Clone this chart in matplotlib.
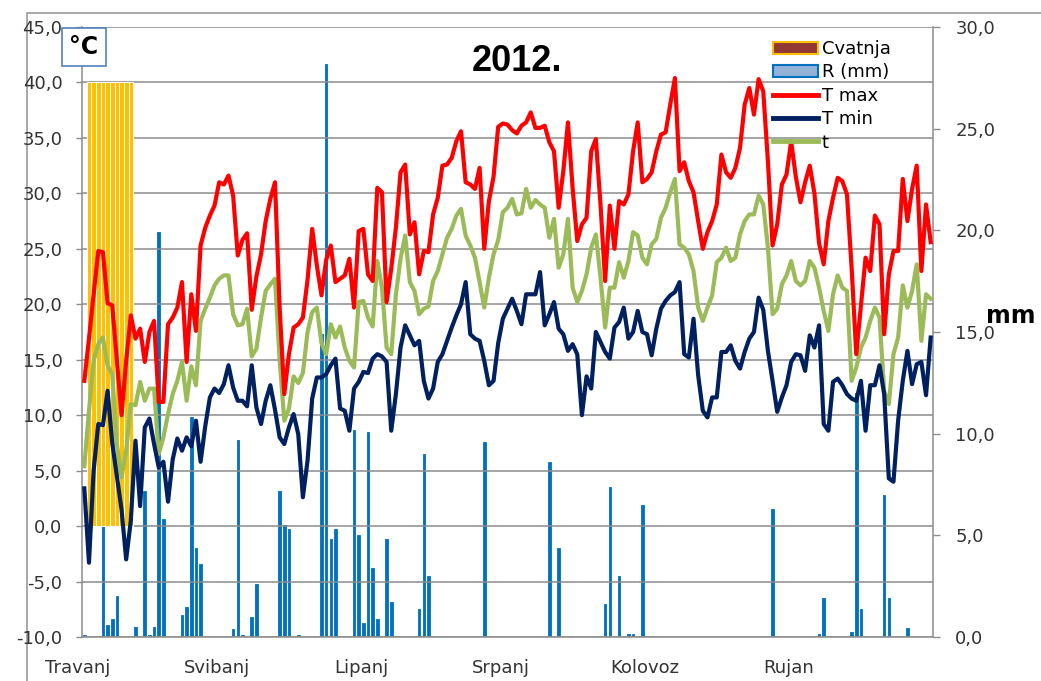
import numpy as np
import matplotlib
matplotlib.use("Agg")
import matplotlib.pyplot as plt
import matplotlib.transforms as mtransforms
from matplotlib.patches import Patch, Rectangle
from matplotlib.lines import Line2D
from matplotlib.ticker import FuncFormatter

plt.rcParams['font.family'] = ['DejaVu Sans']

# ---- data (1.4. - 30.9.2012, daily) ----
months = ["Travanj", "Svibanj", "Lipanj", "Srpanj", "Kolovoz", "Rujan"]
month_start = [0, 30, 61, 91, 122, 153]

t_max = [
    13.1, 16.9, 20.9, 24.8, 24.7, 20.1, 19.9, 15.0, 10.0, 14.9,
    19.0, 16.9, 17.8, 14.8, 17.5, 18.5, 11.2, 11.2, 18.2, 18.8,
    19.7, 22.0, 14.8, 20.9, 17.6, 25.3, 26.9, 28.0, 28.9, 31.0,
    30.8, 31.6, 29.8, 24.4, 25.8, 26.4, 19.5, 22.5, 24.5, 27.5,
    29.5, 31.0, 19.7, 11.9, 15.5, 17.9, 18.2, 18.8, 22.2, 26.8,
    23.5, 20.8, 24.0, 25.3, 22.0, 22.3, 22.6, 24.1, 19.7, 26.6,
    26.8, 22.7, 22.1, 30.5, 30.1, 20.2, 23.2, 26.9, 31.9, 32.6,
    26.3, 27.4, 22.7, 24.8, 24.7, 28.1, 29.6, 32.5, 32.6, 33.2,
    34.7, 35.6, 31.0, 30.8, 30.4, 32.3, 25.0, 29.3, 31.5, 36.0,
    36.3, 36.2, 35.7, 35.4, 36.1, 36.4, 37.3, 35.9, 35.9, 36.1,
    34.6, 33.8, 28.7, 32.0, 36.4, 30.5, 25.7, 27.2, 27.8, 33.8,
    34.9, 29.0, 22.1, 28.9, 25.0, 29.3, 29.0, 29.9, 33.8, 36.4,
    31.0, 31.3, 31.9, 33.8, 35.3, 35.5, 38.0, 40.4, 32.0, 32.8,
    31.1, 30.1, 27.5, 25.0, 26.5, 27.5, 29.0, 33.5, 31.9, 31.4,
    32.3, 34.1, 38.0, 39.5, 37.1, 40.3, 39.2, 32.9, 25.3, 27.2,
    30.8, 31.7, 34.7, 31.5, 29.2, 31.0, 32.5, 30.0, 25.5, 23.6,
    27.5, 29.6, 31.4, 31.1, 29.9, 23.3, 15.5, 19.9, 24.2, 23.0,
    28.0, 27.2, 17.3, 22.7, 24.8, 24.8, 31.3, 27.5, 30.4, 32.5,
    23.0, 29.0, 25.6,
]

t_min = [
    3.4, -3.3, 5.0, 9.2, 9.1, 12.2, 7.5, 4.5, 1.5, -3.0,
    0.5, 7.7, 1.8, 8.9, 9.7, 7.4, 5.3, 5.8, 2.2, 6.0,
    7.9, 6.8, 8.0, 7.2, 9.5, 5.8, 9.0, 11.6, 12.4, 12.0,
    12.8, 14.5, 12.5, 11.3, 11.3, 10.8, 14.5, 10.7, 9.2, 11.3,
    12.7, 10.5, 8.0, 7.4, 8.9, 10.1, 8.3, 2.6, 5.9, 11.5,
    13.4, 13.4, 13.7, 14.5, 15.1, 10.6, 10.4, 8.6, 12.4, 13.0,
    13.9, 13.8, 15.1, 15.5, 15.3, 14.8, 8.6, 11.9, 16.1, 18.1,
    17.2, 16.3, 16.7, 13.1, 11.5, 12.4, 14.8, 15.5, 16.7, 17.9,
    19.0, 20.0, 22.0, 17.3, 16.9, 16.7, 14.9, 12.7, 13.1, 16.5,
    18.7, 19.6, 20.5, 19.4, 18.2, 20.9, 20.9, 20.9, 22.9, 18.1,
    19.1, 20.2, 17.8, 17.3, 15.8, 16.4, 15.5, 10.0, 13.5, 12.4,
    17.5, 16.6, 15.7, 15.1, 17.9, 18.4, 19.7, 16.9, 17.5, 19.4,
    17.5, 17.3, 15.4, 17.8, 19.6, 20.3, 20.8, 21.1, 22.0, 15.5,
    15.2, 18.7, 13.6, 10.4, 9.8, 11.6, 11.6, 15.7, 15.7, 16.3,
    14.9, 14.2, 15.7, 16.9, 17.5, 20.6, 19.5, 15.8, 13.1, 10.3,
    11.6, 12.7, 14.8, 15.5, 15.4, 14.0, 17.2, 16.1, 18.1, 9.2,
    8.6, 13.0, 13.3, 12.7, 11.9, 11.5, 11.3, 13.1, 8.6, 12.7,
    12.7, 14.5, 11.9, 4.3, 4.0, 9.5, 13.1, 15.8, 12.8, 14.6,
    14.8, 11.8, 17.0,
]

t_mean = [
    5.4, 10.4, 14.9, 16.4, 17.0, 14.5, 13.7, 7.4, 4.4, 6.8,
    11.0, 10.9, 13.0, 11.3, 12.4, 12.4, 6.5, 8.0, 10.1, 11.9,
    13.1, 14.8, 11.3, 14.4, 12.7, 18.5, 19.6, 20.6, 21.7, 22.3,
    22.6, 22.6, 19.1, 18.1, 18.2, 19.6, 15.3, 16.0, 18.8, 21.2,
    21.8, 22.3, 15.0, 9.5, 10.6, 13.5, 12.9, 13.8, 17.5, 19.3,
    19.7, 16.5, 15.5, 18.2, 17.0, 18.0, 16.1, 14.9, 14.3, 20.2,
    20.3, 18.8, 18.0, 23.9, 21.5, 16.1, 15.5, 20.9, 24.1, 26.2,
    22.0, 21.2, 19.1, 19.6, 19.8, 22.1, 23.0, 24.5, 26.0, 26.8,
    28.0, 28.6, 26.2, 25.3, 24.2, 22.0, 19.7, 22.4, 24.5, 25.8,
    28.3, 28.7, 29.5, 28.1, 28.2, 30.4, 28.7, 29.4, 29.0, 28.7,
    26.0, 27.7, 23.3, 24.5, 27.7, 21.5, 20.2, 21.2, 22.7, 25.1,
    26.3, 22.4, 17.9, 21.5, 21.5, 23.8, 22.4, 23.9, 26.5, 26.2,
    24.2, 23.6, 25.4, 25.9, 27.8, 28.7, 30.1, 31.3, 25.4, 25.1,
    24.5, 23.0, 19.7, 18.5, 19.7, 20.8, 23.8, 24.2, 25.1, 23.9,
    24.2, 26.3, 27.5, 28.1, 28.1, 29.8, 29.0, 25.1, 19.1, 19.6,
    21.8, 22.6, 23.9, 22.1, 21.7, 22.1, 23.9, 23.3, 21.5, 19.4,
    17.6, 20.9, 22.6, 21.5, 21.2, 13.1, 14.3, 16.1, 17.0, 18.5,
    19.7, 18.8, 12.2, 11.0, 15.5, 17.0, 21.7, 19.7, 21.2, 23.6,
    16.7, 20.9, 20.5,
]

rain_days = [0, 4, 5, 6, 7, 11, 13, 14, 15, 16, 17, 21, 22, 23, 24, 25,
             32, 33, 34, 36, 37, 42, 43, 44, 46, 51, 52, 53, 54, 58, 59,
             60, 61, 62, 63, 65, 66, 72, 73, 74, 86, 100, 102, 112, 113,
             115, 117, 118, 120, 148, 158, 159, 165, 166, 167, 172, 173, 177]
rain_mm = [0.1, 5.8, 0.6, 0.9, 2.0, 0.5, 7.2, 0.1, 0.5, 19.9, 5.8, 1.1, 1.5,
           10.8, 4.4, 3.6, 0.4, 9.7, 0.1, 1.0, 2.6, 7.2, 5.5, 5.3, 0.1, 14.9,
           28.2, 4.8, 5.3, 10.2, 5.0, 0.7, 10.1, 3.4, 0.9, 4.8, 1.7, 1.4, 9.0,
           3.0, 9.6, 8.6, 4.4, 1.6, 7.4, 3.0, 0.15, 0.15, 6.5, 6.3, 0.15, 1.9,
           0.25, 12.0, 1.4, 7.0, 1.9, 0.45]

cvatnja_days = list(range(1, 11))
cvatnja_val = [40.0] * len(cvatnja_days)

days = np.arange(len(t_max))

GRID = "#8c8c8c"
TXT = "#333333"

comma = FuncFormatter(lambda v, p: f"{v:.1f}".replace(".", ","))

fig = plt.figure(figsize=(10.41, 6.81), dpi=100)
ax = fig.add_axes([82 / 1041, 1 - 637 / 681, 851 / 1041, 610 / 681])
ax2 = ax.twinx()
ax.set_zorder(2)
ax2.set_zorder(1)
ax.patch.set_visible(False)

# bars
ax2.bar(rain_days, rain_mm, width=0.55, color="#0070C0", edgecolor="#0070C0",
        linewidth=0.6)
ax.bar(cvatnja_days, cvatnja_val, width=1.0, color="#FFC000",
       edgecolor="white", linewidth=0.7, zorder=2)

# lines
ax.plot(days, t_max, color="#FF0000", lw=3.0, zorder=4, solid_joinstyle="round")
ax.plot(days, t_min, color="#002060", lw=3.0, zorder=4, solid_joinstyle="round")
ax.plot(days, t_mean, color="#9BBB59", lw=3.0, zorder=3, solid_joinstyle="round")

ax.set_xlim(-0.5, len(days) - 0.5)
ax.set_ylim(-10, 45)
ax.set_yticks(np.arange(-10, 46, 5))
ax.yaxis.set_major_formatter(comma)
ax.set_axisbelow(True)
ax.grid(axis="y", color=GRID, lw=1.1)
ax.grid(axis="x", visible=False)

ax2.set_ylim(0, 30)
ax2.set_yticks(np.arange(0, 31, 5))
ax2.yaxis.set_major_formatter(comma)

ax.set_xticks(month_start)
ax.set_xticklabels(months)
ax.tick_params(axis="x", length=0, pad=16, labelsize=13, labelcolor=TXT)
offset = mtransforms.ScaledTranslation(-0.07, 0, fig.dpi_scale_trans)
for lab in ax.get_xticklabels():
    lab.set_transform(lab.get_transform() + offset)

ax.tick_params(axis="y", length=4, width=1, color=GRID, pad=10,
               labelsize=13, labelcolor=TXT)
ax2.tick_params(axis="y", length=5, width=1, color=GRID, pad=11,
                labelsize=13, labelcolor=TXT)

for s in ["top", "right"]:
    ax.spines[s].set_visible(False)
for s in ["left", "bottom"]:
    ax.spines[s].set_color(GRID)
    ax.spines[s].set_linewidth(1.1)
for s in ["top", "left", "bottom"]:
    ax2.spines[s].set_visible(False)
ax2.spines["right"].set_color(GRID)
ax2.spines["right"].set_linewidth(1.1)

# texts
ax.text(0.511, 0.943, "2012.", transform=ax.transAxes, ha="center", va="center",
        fontsize=26, fontweight="bold", family="Liberation Sans", color="black")
fig.text(84 / 1041, 1 - 47 / 681, "°C", ha="center", va="center", fontsize=17,
         fontweight="bold",
         bbox=dict(boxstyle="square,pad=0.3", facecolor="white",
                   edgecolor="#4F81BD", linewidth=1.2))
fig.text(1011 / 1041, 1 - 316 / 681, "mm", ha="center", va="center",
         fontsize=17, fontweight="bold")

# legend
handles = [
    Patch(facecolor="#943634", edgecolor="#FFC000", linewidth=1.5),
    Patch(facecolor="#95B3D7", edgecolor="#0070C0", linewidth=1.5),
    Line2D([], [], color="#FF0000", lw=3.5),
    Line2D([], [], color="#002060", lw=3.5),
    Line2D([], [], color="#9BBB59", lw=3.5),
]
labels = ["Cvatnja", "R (mm)", "T max", "T min", "t"]
fig.legend(handles, labels, loc="upper left",
           bbox_to_anchor=(773 / 1041, 1 - 40 / 681), frameon=False,
           fontsize=13, handlelength=2.5, handleheight=0.65,
           handletextpad=0.2, labelspacing=0.3, borderpad=0, borderaxespad=0)

# outer chart border
fig.add_artist(Rectangle((27 / 1041, -0.1), 1.2, 1.1 - 13 / 681,
                         transform=fig.transFigure, fill=False,
                         edgecolor="#9a9a9a", linewidth=1.2))

fig.savefig("out.png", dpi=100, facecolor="white")
